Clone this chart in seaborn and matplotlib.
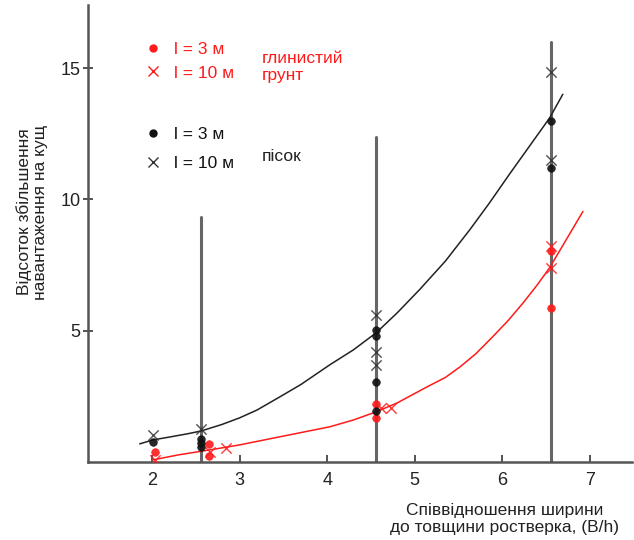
import matplotlib
matplotlib.use("Agg")
import matplotlib.pyplot as plt
from matplotlib.lines import Line2D
import seaborn as sns

# clay soil (red)
clay_l3_x = [2.03, 2.65, 2.65, 4.56, 4.56, 6.55, 6.55]
clay_l3_y = [0.38, 0.69, 0.23, 2.21, 1.68, 8.05, 5.88]
clay_l10_x = [2.03, 2.66, 2.84, 4.61, 4.73, 6.55, 6.55]
clay_l10_y = [0.08, 0.38, 0.53, 2.06, 2.06, 8.24, 7.37]

# sand (black)
sand_l3_x = [2.01, 2.56, 2.56, 2.56, 4.56, 4.56, 4.56, 4.56, 6.55, 6.55]
sand_l3_y = [0.77, 0.88, 0.72, 0.57, 5.04, 4.81, 3.05, 1.95, 13.0, 11.18]
sand_l10_x = [2.01, 2.56, 4.56, 4.56, 4.56, 6.55, 6.55]
sand_l10_y = [1.03, 1.26, 5.61, 4.2, 3.7, 14.85, 11.5]

# trend curves
sand_curve_x = [1.86, 2.01, 2.2, 2.4, 2.56, 2.8, 3.0, 3.2, 3.46, 3.7, 4.03, 4.3,
                4.56, 4.8, 5.06, 5.35, 5.63, 5.85, 6.09, 6.3, 6.54, 6.69]
sand_curve_y = [0.69, 0.84, 0.95, 1.07, 1.18, 1.43, 1.68, 1.98, 2.48, 2.95, 3.7, 4.27,
                4.92, 5.68, 6.58, 7.65, 8.85, 9.85, 11.0, 11.98, 13.1, 14.0]
clay_curve_x = [2.01, 2.3, 2.66, 3.0, 3.46, 4.03, 4.3, 4.56, 4.8, 5.14, 5.35, 5.52,
                5.7, 5.89, 6.07, 6.24, 6.4, 6.54, 6.7, 6.92]
clay_curve_y = [0.08, 0.27, 0.46, 0.65, 0.96, 1.34, 1.6, 1.91, 2.25, 2.86, 3.22, 3.63,
                4.13, 4.77, 5.4, 6.07, 6.75, 7.4, 8.3, 9.54]

# vertical range lines
vline_x = [2.56, 4.56, 6.55]
vline_top = [9.31, 12.37, 16.0]

RED = "#ff1a1a"
DARK = "#111111"

sns.set_style("white")
plt.rcParams["font.family"] = ["Liberation Sans", "DejaVu Sans"]

fig = plt.figure(figsize=(6.34, 5.4), dpi=100)
ax = fig.add_axes([88 / 634, 1 - 462 / 540, 544 / 634, 457 / 540])

for x, top in zip(vline_x, vline_top):
    ax.plot([x, x], [0, top], color="#666666", lw=2.2, zorder=1)

sns.lineplot(x=sand_curve_x, y=sand_curve_y, sort=False, color="#222222", lw=1.1,
             ax=ax, zorder=2)
sns.lineplot(x=clay_curve_x, y=clay_curve_y, sort=False, color=RED, lw=1.1,
             ax=ax, zorder=2)

sns.scatterplot(x=clay_l3_x, y=clay_l3_y, color=RED, marker="o", s=30, edgecolor=RED,
                linewidth=0.5, alpha=0.9, ax=ax, zorder=3)
sns.scatterplot(x=clay_l10_x, y=clay_l10_y, color=RED, marker="x", s=55, linewidth=1.0,
                alpha=0.85, ax=ax, zorder=3)
sns.scatterplot(x=sand_l3_x, y=sand_l3_y, color=DARK, marker="o", s=30, edgecolor=DARK,
                linewidth=0.5, alpha=0.9, ax=ax, zorder=3)
sns.scatterplot(x=sand_l10_x, y=sand_l10_y, color="#333333", marker="x", s=55,
                linewidth=1.0, alpha=0.85, ax=ax, zorder=3)

ax.set_xlim(1.27, 7.48)
ax.set_ylim(0, 17.4)
ax.set_xticks([2, 3, 4, 5, 6, 7])
ax.set_yticks([5, 10, 15])
for side in ["top", "right"]:
    ax.spines[side].set_visible(False)
for side in ["left", "bottom"]:
    ax.spines[side].set_color("#555555")
    ax.spines[side].set_linewidth(1.8)
ax.tick_params(axis="x", bottom=True, direction="in", length=5, width=1.3,
               colors="#444444", labelcolor="#222222", labelsize=13, pad=7)
ax.tick_params(axis="y", left=True, direction="inout", length=7, width=1.3,
               colors="#444444", labelcolor="#222222", labelsize=13, pad=2)

# legends
fs = 12.5
red_handles = [
    Line2D([], [], color=RED, marker="o", ls="none", markersize=5),
    Line2D([], [], color=RED, marker="x", ls="none", markersize=7),
]
leg1 = ax.legend(red_handles, ["l = 3 м", "l = 10 м"], loc="upper left",
                 bbox_to_anchor=(0.103, 0.92), frameon=False, borderpad=0,
                 borderaxespad=0, handlelength=1, handletextpad=0.7,
                 labelspacing=0.5, fontsize=fs, labelcolor=RED)
ax.add_artist(leg1)
black_handles = [
    Line2D([], [], color=DARK, marker="o", ls="none", markersize=5),
    Line2D([], [], color="#333333", marker="x", ls="none", markersize=7),
]
ax.legend(black_handles, ["l = 3 м", "l = 10 м"], loc="upper left",
          bbox_to_anchor=(0.103, 0.733), frameon=False, borderpad=0,
          borderaxespad=0, handlelength=1, handletextpad=0.7,
          labelspacing=0.8, fontsize=fs, labelcolor=DARK)

ax.text(0.32, 0.90, "глинистий\nгрунт", transform=ax.transAxes, color=RED,
        fontsize=fs, va="top", ha="left", linespacing=1.2)
ax.text(0.32, 0.668, "пісок", transform=ax.transAxes, color="#222222",
        fontsize=fs, va="center", ha="left")

fig.text(32 / 634, 1 - 212 / 540, "Відсоток збільшення\nнавантаження на кущ",
         rotation=90, ha="center", va="center", fontsize=12.5, color="#222222",
         multialignment="center", linespacing=1.1)
fig.text(505 / 634, 1 - 519 / 540, "Співвідношення ширини\nдо товщини ростверка, (B/h)",
         ha="center", va="center", fontsize=12.5, color="#222222",
         multialignment="center", linespacing=1.1)

fig.savefig("out.png", dpi=100)
